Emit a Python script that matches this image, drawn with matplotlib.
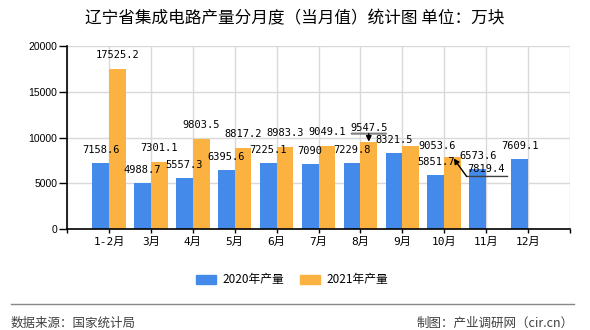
import matplotlib.pyplot as plt
import matplotlib.transforms as mtransforms
from matplotlib.patches import Patch
from matplotlib.lines import Line2D

plt.rcParams['font.family'] = ['Noto Sans CJK SC', 'DejaVu Sans']

# 月份和两年产量（万块）
months = ['1-2月', '3月', '4月', '5月', '6月', '7月', '8月', '9月', '10月', '11月', '12月']
prod_2020 = [7158.6, 4988.7, 5557.3, 6395.6, 7225.1, 7090, 7229.8, 8321.5, 5851.7, 6573.6, 7609.1]
prod_2021 = [17525.2, 7301.1, 9803.5, 8817.2, 8983.3, 9049.1, 9547.5, 9053.6, 7819.4]
yticks = [0, 5000, 10000, 15000, 20000]

blue = '#438AEB'
orange = '#FBB241'
num_font = ['DejaVu Sans Mono', 'Noto Sans CJK SC']

fig = plt.figure(figsize=(5.9, 3.3), dpi=100)
ax = fig.add_axes([67/590, 1-229/330, 503/590, 183/330])

w = 0.4
x20 = [i - w/2 for i in range(len(prod_2020))]
x21 = [i + w/2 for i in range(len(prod_2021))]
ax.bar(x20, prod_2020, width=w, color=blue, zorder=2)
ax.bar(x21, prod_2021, width=w, color=orange, zorder=2)

ax.set_xlim(-1, 11)
ax.set_ylim(0, 20000)
ax.set_yticks(yticks)
ax.set_yticklabels([str(v) for v in yticks], family='Liberation Sans', fontsize=7.5)
ax.set_xticks(range(-1, 12))
ax.set_xticklabels([''] + months + [''], family=num_font, fontsize=8)
ax.tick_params(axis='y', length=6, width=1, pad=1, direction='out')
ax.tick_params(axis='x', length=3, width=1, pad=3, direction='out')
ax.grid(color='#d9d9d9', lw=1, zorder=0)
for s in ['top', 'right']:
    ax.spines[s].set_visible(False)
for s in ['left', 'bottom']:
    ax.spines[s].set_linewidth(1.2)

def px(v):
    return v * 72 / 100

def offs(dx, dy):
    return mtransforms.offset_copy(ax.transData, fig=fig, x=dx, y=dy, units='dots')

# 数值标签（个别标签挪开避免重叠）
shift_21 = {7: (26, 0)}
for x, v in zip(x20, prod_2020):
    ax.annotate(f'{v:g}', (x, v), xytext=(0, px(13)), textcoords='offset points',
                ha='center', va='center', family=num_font, fontsize=7.5)
for i, (x, v) in enumerate(zip(x21, prod_2021)):
    if i == 8:
        continue
    dx, dy = shift_21.get(i, (0, 14))
    ax.annotate(f'{v:g}', (x, v), xytext=(px(dx), px(dy)), textcoords='offset points',
                ha='center', va='center', family=num_font, fontsize=7.5)

# 8月 2021 标签下划线和箭头
x, v = x21[6], prod_2021[6]
ax.annotate('', xy=(x, v), xycoords=offs(-20, 8), xytext=(x, v), textcoords=offs(20, 8),
            arrowprops=dict(arrowstyle='-', color='#808080', lw=1.5))
ax.annotate('', xy=(x, v), xycoords=offs(0, 0), xytext=(x, v), textcoords=offs(0, 8),
            arrowprops=dict(arrowstyle='-|>', color='black', lw=1, mutation_scale=8,
                            shrinkA=0, shrinkB=0))

# 10月 2021 标签引线
x, v = x21[8], prod_2021[8]
ax.annotate(f'{v:g}', (x, v), xytext=(px(33), px(-12)), textcoords='offset points',
            ha='center', va='center', family=num_font, fontsize=7.5)
ax.annotate('', xy=(x, v), xycoords=offs(14, -19), xytext=(x, v), textcoords=offs(55, -19),
            arrowprops=dict(arrowstyle='-', color='#404040', lw=1, shrinkA=0, shrinkB=0))
ax.annotate('', xy=(x, v), xycoords=offs(1, -1), xytext=(x, v), textcoords=offs(14, -19),
            arrowprops=dict(arrowstyle='-|>', color='black', lw=1, mutation_scale=8,
                            shrinkA=0, shrinkB=0))

fig.text(0.5, 1-19/330, '辽宁省集成电路产量分月度（当月值）统计图 单位：万块',
         ha='center', va='center', fontsize=12)

handles = [Patch(color=blue, label='2020年产量'), Patch(color=orange, label='2021年产量')]
fig.legend(handles=handles, loc='center', bbox_to_anchor=(292/590, 1-280/330), ncol=2,
           frameon=False, fontsize=8.5, handlelength=1.7, handleheight=0.8,
           handletextpad=0.5, columnspacing=1.4)

fig.add_artist(Line2D([11/590, 574/590], [1-303.5/330, 1-303.5/330], color='#888888', lw=1))
fig.text(11/590, 1-323.5/330, '数据来源：国家统计局', ha='left', va='center',
         fontsize=9, color='#404040')
fig.text(574/590, 1-323.5/330, '制图：产业调研网（cir.cn）', ha='right', va='center',
         fontsize=9, color='#404040')

fig.savefig('out.png', dpi=100)
